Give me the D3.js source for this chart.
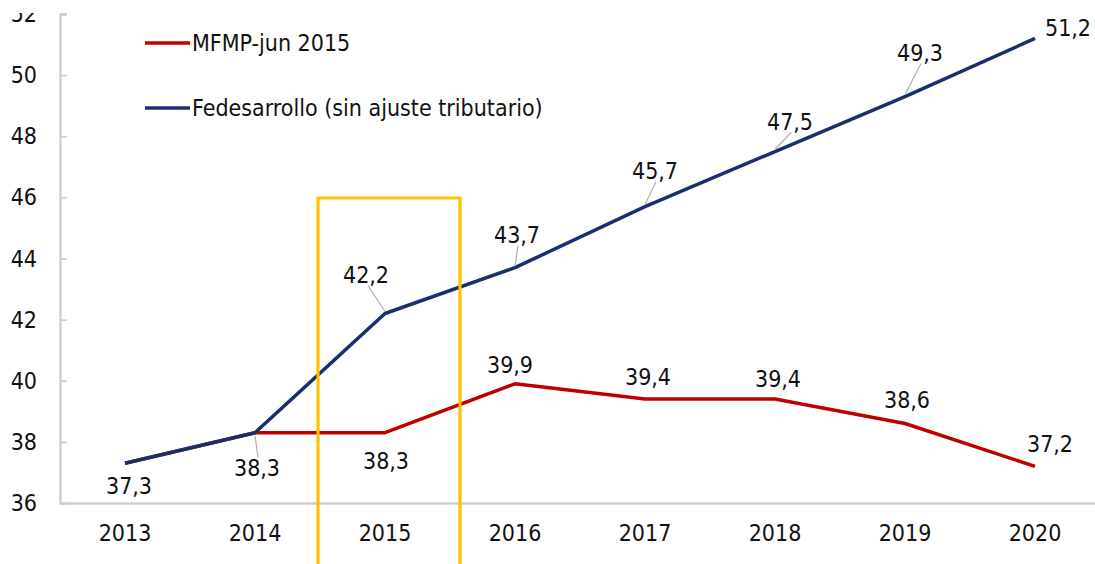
<!DOCTYPE html>
<html><head><meta charset="utf-8">
<script src="https://cdn.jsdelivr.net/npm/d3@7/dist/d3.min.js"></script>
<style>
body{margin:0;background:#fff;}
svg text{font-family:"DejaVu Sans Condensed","DejaVu Sans",sans-serif;font-stretch:condensed;fill:#111;}
</style></head>
<body><svg id="c" width="1095" height="564"></svg>
<script>
const years = ["2013","2014","2015","2016","2017","2018","2019","2020"];
const mfmp = [37.3, 38.3, 38.3, 39.9, 39.4, 39.4, 38.6, 37.2];
const fedesarrollo = [37.3, 38.3, 42.2, 43.7, 45.7, 47.5, 49.3, 51.2];
const mfmpLabels = [null, null, "38,3", "39,9", "39,4", "39,4", "38,6", "37,2"];
const fedeLabels = ["37,3", "38,3", "42,2", "43,7", "45,7", "47,5", "49,3", "51,2"];
const yTicks = [36, 38, 40, 42, 44, 46, 48, 50, 52];
const seriesNames = ["MFMP-jun 2015", "Fedesarrollo (sin ajuste tributario)"];
const highlightYear = "2015";

const svg = d3.select("#c");
const x = d3.scaleBand().domain(years).range([60, 1100]).padding(0);
const y = d3.scaleLinear().domain([36, 52]).range([503, 14]);
const cx = d => x(d) + x.bandwidth() / 2;
const FS = 23;

// y axis
const ya = svg.append("g").attr("transform", "translate(60,0)")
  .call(d3.axisRight(y).tickValues(yTicks).tickSize(7).tickFormat(""));
ya.select(".domain").attr("stroke", "#d0d0d0").attr("stroke-width", 2.5);
ya.selectAll(".tick line").attr("stroke", "#c8c8c8").attr("stroke-width", 1.5);
svg.append("g").selectAll("text").data(yTicks).join("text")
  .attr("x", 37).attr("y", d => y(d)).attr("text-anchor", "end")
  .attr("dominant-baseline", "central").attr("font-size", FS).text(d => d);

// x axis
const xa = svg.append("g").attr("transform", "translate(0,503)")
  .call(d3.axisBottom(x).tickSize(0).tickFormat(""));
xa.select(".domain").attr("stroke", "#d0d0d0").attr("stroke-width", 2.5);
svg.append("g").selectAll("text").data(years).join("text")
  .attr("x", d => cx(d)).attr("y", 533).attr("text-anchor", "middle")
  .attr("dominant-baseline", "central").attr("font-size", FS).text(d => d);

// lines
const line = d3.line().x((d, i) => cx(years[i])).y(d => y(d));
svg.append("path").datum(mfmp).attr("d", line).attr("fill", "none")
  .attr("stroke", "#c00000").attr("stroke-width", 3.5).attr("stroke-linejoin", "round");
svg.append("path").datum(fedesarrollo).attr("d", line).attr("fill", "none")
  .attr("stroke", "#1b2f6e").attr("stroke-width", 3.5).attr("stroke-linejoin", "round");

// label placement (offsets from point)
const fedeOff = [[4,23,0],[2,35,1],[-19,-39,1],[2,-33,1],[10,-36,1],[15,-30,1],[15,-44,1],[33,-10,0]];
const mfmpOff = [null,null,[1,28,0],[-5,-19,0],[3,-22,0],[3,-20,0],[2,-24,0],[15,-22,0]];

function drawLabels(vals, labels, offs) {
  vals.forEach((v, i) => {
    if (!labels[i]) return;
    const px = cx(years[i]), py = y(v);
    const [dx, dy, lead] = offs[i];
    const lx = px + dx, ly = py + dy;
    if (lead) {
      const sy = dy > 0 ? ly - 10 : ly + 11;
      const ey = dy > 0 ? py + 3 : py - 2;
      svg.append("line").attr("x1", lx + (dx > 0 ? 1 : 2)).attr("y1", sy)
        .attr("x2", px).attr("y2", ey).attr("stroke", "#b0b0b0").attr("stroke-width", 1.2);
    }
    svg.append("text").attr("x", lx).attr("y", ly).attr("text-anchor", "middle")
      .attr("dominant-baseline", "central").attr("font-size", FS).text(labels[i]);
  });
}
drawLabels(fedesarrollo, fedeLabels, fedeOff);
drawLabels(mfmp, mfmpLabels, mfmpOff);

// highlight box
const bx0 = cx(highlightYear) - 67, bx1 = cx(highlightYear) + 75;
svg.append("path").attr("d", `M${bx0},570 V198 H${bx1} V570`).attr("fill", "none")
  .attr("stroke", "#ffc000").attr("stroke-width", 3.2);

// legend
const legColors = ["#c00000", "#1b2f6e"];
const legY = [43, 108];
seriesNames.forEach((n, i) => {
  svg.append("line").attr("x1", 145).attr("x2", 190).attr("y1", legY[i]).attr("y2", legY[i])
    .attr("stroke", legColors[i]).attr("stroke-width", 3.5);
  svg.append("text").attr("x", 192).attr("y", legY[i]).attr("dominant-baseline", "central")
    .attr("font-size", FS).text(n);
});

// top crop
svg.append("rect").attr("x", 0).attr("y", 0).attr("width", 1095).attr("height", 13).attr("fill", "#fff");
</script></body></html>
